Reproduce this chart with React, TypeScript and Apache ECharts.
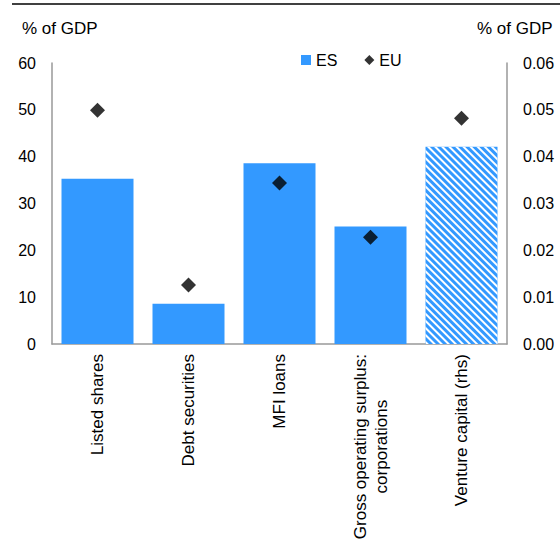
import React, { useEffect, useRef } from "react";
import * as echarts from "echarts";

const categories = [
  "Listed shares",
  "Debt securities",
  "MFI loans",
  "Gross operating surplus:\ncorporations",
  "Venture capital (rhs)",
];
const esLeft = [35.3, 8.6, 38.6, 25.1, "-"];
const esRight = ["-", "-", "-", "-", 0.0421];
const euLeft = [49.9, 12.6, 34.4, 22.8, "-"];
const euRight = ["-", "-", "-", "-", 0.0482];
const leftTicks = [0, 10, 20, 30, 40, 50, 60];
const rightTicks = ["0.00", "0.01", "0.02", "0.03", "0.04", "0.05", "0.06"];

const FONT = "Liberation Sans, Arial, sans-serif";
const BLUE = "#3399FF";

export default function App() {
  const ref = useRef<HTMLDivElement>(null);
  useEffect(() => {
    const chart = echarts.init(ref.current!, null, { renderer: "svg" });
    chart.setOption({
      animation: false,
      textStyle: { fontFamily: FONT },
      graphic: [
        {
          type: "line",
          shape: { x1: 12, y1: 4, x2: 560, y2: 4 },
          style: { stroke: "#000", lineWidth: 1.5 },
        },
        {
          type: "text",
          left: 22,
          top: 20,
          style: { text: "% of GDP", font: `17px ${FONT}`, fill: "#000" },
        },
        {
          type: "text",
          left: 477,
          top: 20,
          style: { text: "% of GDP", font: `17px ${FONT}`, fill: "#000" },
        },
      ],
      legend: {
        left: 296,
        top: 47,
        itemWidth: 10,
        itemHeight: 10,
        itemGap: 27,
        textStyle: { fontSize: 16, color: "#000", fontFamily: FONT },
        data: [
          { name: "ES", icon: "rect" },
          { name: "EU", icon: "diamond" },
        ],
      },
      grid: { left: 52, right: 53, top: 63, bottom: 204 },
      xAxis: {
        type: "category",
        data: categories,
        axisLine: { lineStyle: { color: "#999", width: 1.5 } },
        axisTick: { show: false },
        axisLabel: {
          rotate: 90,
          margin: 10,
          interval: 0,
          fontSize: 17,
          color: "#000",
          fontFamily: FONT,
          formatter: (v: string) => {
            const parts = v.split("\n");
            if (parts.length === 1) return v;
            return `{a|${parts[0]}}\n{b|${parts[1]}}`;
          },
          rich: {
            a: { fontSize: 17, fontFamily: FONT, color: "#000", lineHeight: 21 },
            b: { fontSize: 17, fontFamily: FONT, color: "#000", align: "center", lineHeight: 21 },
          },
        },
      },
      yAxis: [
        {
          type: "value",
          min: 0,
          max: 60,
          interval: 10,
          splitLine: { show: false },
          axisLine: { show: true, lineStyle: { color: "#999", width: 1.5 } },
          axisTick: { show: false },
          axisLabel: {
            margin: 16,
            fontSize: 16,
            color: "#000",
            fontFamily: FONT,
            formatter: (v: number) => String(leftTicks[Math.round(v / 10)] ?? v),
          },
        },
        {
          type: "value",
          min: 0,
          max: 0.06,
          interval: 0.01,
          splitLine: { show: false },
          axisLine: { show: true, lineStyle: { color: "#999", width: 1.5 } },
          axisTick: { show: false },
          axisLabel: {
            margin: 16,
            fontSize: 16,
            color: "#000",
            fontFamily: FONT,
            formatter: (v: number) => rightTicks[Math.round(v * 100)] ?? String(v),
          },
        },
      ],
      series: [
        {
          name: "ES",
          type: "bar",
          yAxisIndex: 0,
          data: esLeft,
          barWidth: 72,
          barGap: "-100%",
          itemStyle: { color: BLUE },
        },
        {
          name: "ES",
          type: "bar",
          yAxisIndex: 1,
          data: esRight,
          barWidth: 72,
          barGap: "-100%",
          itemStyle: {
            color: BLUE,
            decal: {
              symbol: "rect",
              color: "#fff",
              dashArrayX: [1, 0],
              dashArrayY: [2, 3],
              rotation: Math.PI / 4,
            },
          },
        },
        {
          name: "EU",
          type: "scatter",
          yAxisIndex: 0,
          data: euLeft,
          symbol: "diamond",
          symbolSize: 15,
          itemStyle: { color: "#000" },
          z: 5,
        },
        {
          name: "EU",
          type: "scatter",
          yAxisIndex: 1,
          data: euRight,
          symbol: "diamond",
          symbolSize: 15,
          itemStyle: {
            color: "#000",
            decal: {
              symbol: "rect",
              color: "#999",
              dashArrayX: [1, 2],
              dashArrayY: [1, 2],
              symbolSize: 1,
            },
          },
          z: 5,
        },
      ],
    });
    return () => chart.dispose();
  }, []);
  return (
    <div
      ref={ref}
      style={{ position: "fixed", left: 0, top: 0, width: 560, height: 548, background: "#fff" }}
    />
  );
}
